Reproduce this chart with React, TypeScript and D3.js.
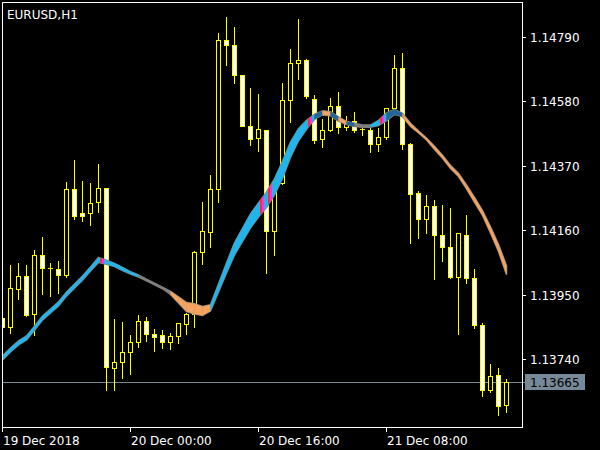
import React from "react";
import * as d3 from "d3";

const symbolTitle = "EURUSD,H1";
const timeLabels = ["19 Dec 2018", "20 Dec 00:00", "20 Dec 16:00", "21 Dec 08:00"];
const timeLabelIndex = [0, 16, 32, 48];
const priceTicks = [1.1479, 1.1458, 1.1437, 1.1416, 1.1395, 1.1374];
const lastPrice = 1.13665;

const opens = [
  1.13874, 1.13844, 1.1397, 1.14011, 1.13886, 1.14078, 1.14036, 1.14033, 1.14013, 1.14293,
  1.14215, 1.14215, 1.14251, 1.14296, 1.13712, 1.1373, 1.13762, 1.13795, 1.13863, 1.13821,
  1.13818, 1.13795, 1.13814, 1.13854, 1.13886, 1.14088, 1.14153, 1.14293, 1.14778, 1.14762,
  1.14664, 1.14498, 1.14459, 1.14485, 1.14159, 1.14313, 1.14583, 1.14703, 1.14713, 1.14586,
  1.14456, 1.14485, 1.14563, 1.14495, 1.14515, 1.14488, 1.14485, 1.1444, 1.14462, 1.14557,
  1.14687, 1.1444, 1.1428, 1.14198, 1.14238, 1.14143, 1.14104, 1.14009, 1.14143, 1.14003,
  1.13852, 1.13639, 1.13687, 1.1359,
];
const highs = [
  1.13881, 1.1405, 1.14056, 1.1405, 1.14099, 1.1414, 1.14056, 1.14063, 1.14319, 1.14392,
  1.14322, 1.14316, 1.14378, 1.14298, 1.13873, 1.13863, 1.13821, 1.13886, 1.13881, 1.13841,
  1.13837, 1.13828, 1.1386, 1.13893, 1.14094, 1.14254, 1.14343, 1.14804, 1.14857, 1.14824,
  1.14667, 1.14625, 1.14606, 1.14488, 1.14326, 1.14642, 1.14752, 1.1485, 1.1472, 1.14602,
  1.14524, 1.14593, 1.14612, 1.14534, 1.14547, 1.14501, 1.14495, 1.14495, 1.1456, 1.14733,
  1.14739, 1.14446, 1.14291, 1.14278, 1.14261, 1.14244, 1.14234, 1.14153, 1.14212, 1.14036,
  1.13861, 1.13727, 1.13714, 1.13678,
];
const lows = [
  1.13835, 1.13824, 1.13937, 1.13882, 1.1382, 1.13953, 1.13947, 1.13956, 1.14007, 1.14197,
  1.14191, 1.14178, 1.1422, 1.1364, 1.1364, 1.13678, 1.13691, 1.1378, 1.138, 1.13768,
  1.13777, 1.13774, 1.13792, 1.13821, 1.13844, 1.14049, 1.14104, 1.14251, 1.14697, 1.14638,
  1.14498, 1.14436, 1.14417, 1.1402, 1.14078, 1.14309, 1.14511, 1.14651, 1.14589, 1.14443,
  1.1443, 1.14482, 1.14475, 1.14485, 1.14479, 1.14469, 1.14414, 1.14417, 1.14458, 1.14555,
  1.14423, 1.14117, 1.14134, 1.1415, 1.14, 1.14059, 1.14005, 1.13821, 1.13987, 1.13842,
  1.13619, 1.13632, 1.13557, 1.13567,
];
const closes = [
  1.13845, 1.13971, 1.14011, 1.13885, 1.14078, 1.14036, 1.14036, 1.14013, 1.14293, 1.14207,
  1.14207, 1.14248, 1.14296, 1.13713, 1.1373, 1.13762, 1.13795, 1.13863, 1.13821, 1.13813,
  1.13795, 1.13814, 1.13857, 1.13886, 1.14088, 1.14156, 1.14293, 1.14778, 1.14762, 1.14664,
  1.14498, 1.14456, 1.14488, 1.14159, 1.14309, 1.14583, 1.14703, 1.14713, 1.14596, 1.14453,
  1.14485, 1.14563, 1.14495, 1.14514, 1.14485, 1.14488, 1.1444, 1.14462, 1.14557, 1.14687,
  1.1444, 1.14277, 1.14198, 1.14238, 1.14143, 1.14104, 1.14009, 1.1415, 1.14003, 1.13852,
  1.13639, 1.13686, 1.13587, 1.13665,
];

// indicator ribbon: centre value, spread between its two lines, state of each segment
const maMid = [
  1.13744, 1.1377, 1.13793, 1.13809, 1.13841, 1.13874, 1.13897, 1.1392, 1.13952, 1.13978,
  1.14004, 1.14034, 1.14063, 1.14056, 1.14047, 1.14034, 1.14021, 1.14011, 1.13998, 1.13985,
  1.13972, 1.13956, 1.13933, 1.1391, 1.13904, 1.13897, 1.13907, 1.13972, 1.14037, 1.14099,
  1.14145, 1.1419, 1.14226, 1.14259, 1.14301, 1.14357, 1.14422, 1.14471, 1.14503, 1.14529,
  1.14542, 1.14539, 1.14522, 1.14509, 1.14503, 1.14499, 1.14499, 1.14509, 1.14529, 1.14545,
  1.14535, 1.14503, 1.1448, 1.14457, 1.14428, 1.14399, 1.14366, 1.1434, 1.14301, 1.14259,
  1.14216, 1.14161, 1.14102, 1.1403,
];
const maSpread = [
  0.00013, 0.00013, 0.00013, 0.00013, 0.00013, 0.00013, 0.00013, 0.00013, 0.00013, 0.00013,
  0.00013, 0.00013, 0.00016, 0.00013, 0.0001, 0.0001, 0.00008, 0.000065, 0.00005, 0.00005,
  0.00005, 0.0001, 0.0002, 0.00029, 0.00033, 0.00029, 0.0002, 0.00026, 0.00033, 0.00039,
  0.00042, 0.00046, 0.00046, 0.00049, 0.00052, 0.00055, 0.00049, 0.00039, 0.00029, 0.00016,
  0.00013, 0.00013, 0.00013, 0.0001, 0.0001, 0.000065, 0.000065, 0.00016, 0.00026, 0.00016,
  0.0001, 0.0001, 0.000065, 0.000065, 0.0001, 0.0001, 0.0001, 0.0001, 0.00013, 0.00016,
  0.00016, 0.0002, 0.00023, 0.00029,
];
const maState = [
  "up", "up", "up", "up", "up", "up", "up", "up", "up", "up", "up", "up",
  "cross",
  "up", "up", "up", "up",
  "flat", "flat", "flat", "flat",
  "down", "down", "down", "down", "down",
  "up", "up", "up", "up", "up", "up",
  "cross", "cross",
  "up", "up", "up", "up",
  "cross",
  "dark", "down", "dark", "down", "dark",
  "flat", "flat",
  "up",
  "cross",
  "dark", "dark",
  "down", "down", "down", "down", "down", "down", "down", "down", "down", "down", "down", "down", "down",
];

const stateColor: Record<string, string> = {
  up: "#1fb6ee",
  down: "#f4a460",
  flat: "#7f7f7f",
  dark: "#22679a",
  cross: "url(#crossGrad)",
};

const FONT = "'DejaVu Sans', sans-serif";

export default function App() {
  const W = 600;
  const H = 450;
  const left = 2.5;
  const right = 522.5;
  const top = 2.5;
  const bottom = 427.5;

  const x = d3.scaleLinear().domain([0, 63]).range([2.5, 506.5]);
  const y = d3.scaleLinear().domain([1.1479, 1.1374]).range([36.7, 359.2]);
  const py = (v: number) => Math.round(y(v)) + 0.5;

  const idx = d3.range(opens.length);

  const band = d3
    .area<number>()
    .x((i) => x(i))
    .y0((i) => y(maMid[i] - maSpread[i] / 2))
    .y1((i) => y(maMid[i] + maSpread[i] / 2));

  const lastY = py(lastPrice);

  return (
    <svg width={W} height={H} style={{ display: "block", position: "absolute", left: 0, top: 0, background: "#000" }}>
      <defs>
        <clipPath id="plotClip">
          <rect x={left + 0.5} y={top + 0.5} width={right - left - 1} height={bottom - top - 1} />
        </clipPath>
        <linearGradient id="crossGrad" x1="0" x2="1" y1="0" y2="0">
          <stop offset="0" stopColor="#1fb6ee" />
          <stop offset="0.2" stopColor="#1fb6ee" />
          <stop offset="0.2" stopColor="#ff2448" />
          <stop offset="0.45" stopColor="#ff2448" />
          <stop offset="0.45" stopColor="#ff30e0" />
          <stop offset="0.65" stopColor="#ff30e0" />
          <stop offset="0.65" stopColor="#1fb6ee" />
          <stop offset="1" stopColor="#1fb6ee" />
        </linearGradient>
      </defs>
      <rect x={0} y={0} width={W} height={H} fill="#000" />

      <g clipPath="url(#plotClip)">
        {/* current price line */}
        <line x1={left} x2={right} y1={lastY} y2={lastY} stroke="#778899" strokeWidth={1} />

        {/* candles */}
        {idx.map((i) => {
          const cx = x(i);
          const o = opens[i];
          const c = closes[i];
          const yTop = py(Math.max(o, c));
          const yBot = py(Math.min(o, c));
          const bull = c > o;
          return (
            <g key={i} shapeRendering="crispEdges">
              <line x1={cx} x2={cx} y1={py(highs[i])} y2={py(lows[i])} stroke="#ffff00" strokeWidth={1} />
              {yTop === yBot ? (
                <line x1={cx - 2.5} x2={cx + 2.5} y1={yTop} y2={yTop} stroke="#ffff00" strokeWidth={1} />
              ) : (
                <rect
                  x={cx - 2}
                  y={yTop}
                  width={4}
                  height={yBot - yTop}
                  fill={bull ? "#000" : "#fff"}
                  stroke="#ffff00"
                  strokeWidth={1}
                />
              )}
            </g>
          );
        })}

        {/* indicator ribbon */}
        <path d={band(idx) || ""} fill="#7f7f7f" stroke="#7f7f7f" strokeWidth={1.6} />
        {maState.map((s, i) => (
          <path
            key={"seg" + i}
            d={band([i, i + 1]) || ""}
            fill={stateColor[s]}
            stroke={s === "cross" ? "none" : stateColor[s]}
            strokeWidth={0.3}
          />
        ))}
      </g>

      {/* frame */}
      <rect x={left} y={top} width={right - left} height={bottom - top} fill="none" stroke="#fff" strokeWidth={1} shapeRendering="crispEdges" />

      {/* price axis */}
      {priceTicks.map((p) => {
        const ty = py(p);
        return (
          <g key={p}>
            <line x1={right} x2={right + 3} y1={ty} y2={ty} stroke="#fff" shapeRendering="crispEdges" />
            <text x={530} y={ty} dy="0.36em" fill="#fff" fontFamily={FONT} fontSize={12}>
              {p.toFixed(5)}
            </text>
          </g>
        );
      })}
      <line x1={right} x2={525} y1={lastY} y2={lastY} stroke="#778899" shapeRendering="crispEdges" />
      <rect x={525} y={lastY - 8.5} width={60} height={16} fill="#778899" shapeRendering="crispEdges" />
      <text x={530} y={lastY} dy="0.36em" fill="#000" fontFamily={FONT} fontSize={12}>
        {lastPrice.toFixed(5)}
      </text>

      {/* time axis */}
      {timeLabels.map((t, k) => {
        const tx = x(timeLabelIndex[k]);
        return (
          <g key={t}>
            <line x1={tx} x2={tx} y1={bottom} y2={bottom + 4} stroke="#fff" shapeRendering="crispEdges" />
            <text x={tx + 0.5} y={445} fill="#fff" fontFamily={FONT} fontSize={12}>
              {t}
            </text>
          </g>
        );
      })}

      {/* title */}
      <text x={7} y={19} fill="#fff" fontFamily={FONT} fontSize={12}>
        {symbolTitle}
      </text>
    </svg>
  );
}
